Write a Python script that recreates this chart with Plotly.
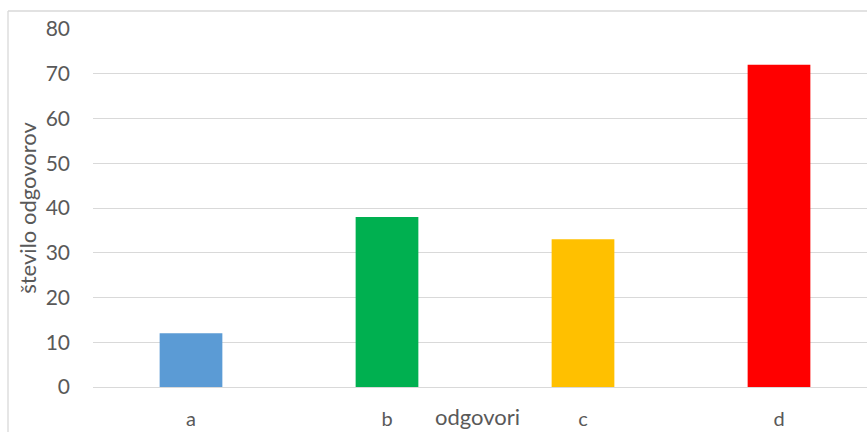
import plotly.graph_objects as go

# Answer categories and number of responses
categories = ["a", "b", "c", "d"]
counts = [12, 38, 33, 72]
bar_colors = ["#5B9BD5", "#00B050", "#FFC000", "#FF0000"]
y_ticks = [0, 10, 20, 30, 40, 50, 60, 70, 80]

W, H = 867, 432
ml, mr, mt, mb = 93, 0, 29, 45
font_family = "Lato, 'Open Sans', sans-serif"
text_color = "#595959"
grid_color = "#D9D9D9"

fig = go.Figure(
    go.Bar(
        x=categories,
        y=counts,
        marker=dict(color=bar_colors, line=dict(width=0)),
        width=0.32,
        showlegend=False,
    )
)

plot_h = H - mt - mb
plot_w = W - ml - mr

fig.update_layout(
    width=W,
    height=H,
    margin=dict(l=ml, r=mr, t=mt, b=mb, pad=0),
    paper_bgcolor="white",
    plot_bgcolor="white",
    font=dict(family=font_family, color=text_color, size=20),
    xaxis=dict(
        type="category",
        range=[-0.5, 3.449],
        showgrid=False,
        showline=False,
        zeroline=False,
        ticks="",
        tickfont=dict(size=20, color=text_color),
        ticklabelstandoff=18,
    ),
    yaxis=dict(
        range=[0, 80],
        tickvals=y_ticks,
        showgrid=True,
        gridcolor=grid_color,
        gridwidth=1.3,
        zeroline=True,
        zerolinecolor=grid_color,
        zerolinewidth=1.3,
        showline=False,
        ticks="",
        tickfont=dict(size=21, color=text_color),
        ticklabelstandoff=22,
        title=dict(text="število odgovorov", font=dict(size=22, color=text_color), standoff=2),
    ),
    annotations=[
        dict(
            text="odgovori",
            x=1.46,
            xref="x",
            y=-29 / plot_h,
            yref="paper",
            yanchor="middle",
            xanchor="center",
            showarrow=False,
            font=dict(size=22, color=text_color),
        )
    ],
    shapes=[
        # chart frame (left and top edges)
        dict(
            type="line", xref="paper", yref="paper",
            x0=(8 - ml) / plot_w, x1=(8 - ml) / plot_w,
            y0=(H - mb - 11) / plot_h, y1=-(mb + 5) / plot_h,
            line=dict(color=grid_color, width=1.3),
        ),
        dict(
            type="line", xref="paper", yref="paper",
            x0=(8 - ml) / plot_w, x1=1.01,
            y0=(H - mb - 11) / plot_h, y1=(H - mb - 11) / plot_h,
            line=dict(color=grid_color, width=1.3),
        ),
    ],
)

fig.write_html("out.html")
